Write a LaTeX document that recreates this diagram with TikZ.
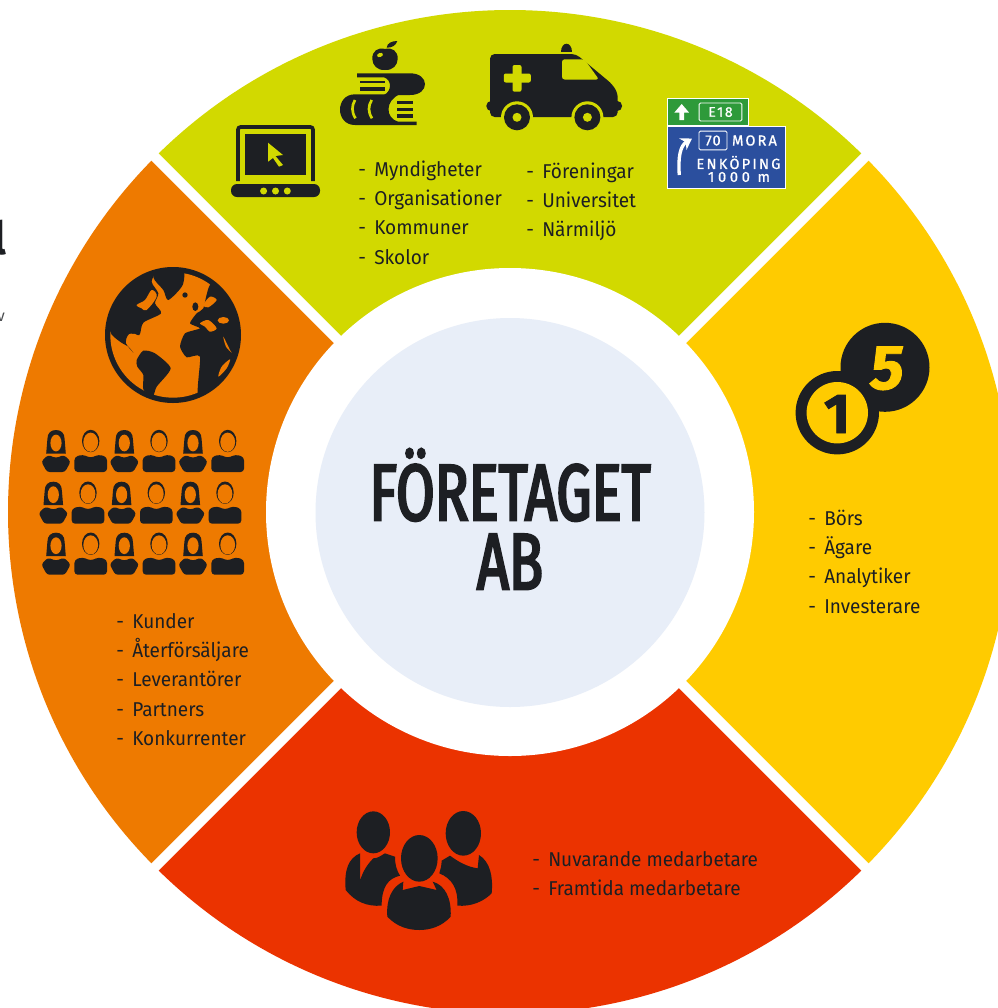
\documentclass[tikz,border=0pt]{standalone}
\usepackage{fontspec}
\setmainfont[FakeStretch=0.95]{Fira Sans}
\newfontfamily\titlefont[FakeStretch=0.70,FakeBold=3]{Fira Sans}
\newfontfamily\signfont[FakeBold=0.8]{Fira Sans}
\newfontfamily\coinfont[FakeBold=1.5]{Fira Sans}
\usetikzlibrary{arrows.meta}

\definecolor{ringyellow}{HTML}{FFCB00}
\definecolor{ringred}{HTML}{EB3300}
\definecolor{ringorange}{HTML}{EE7A00}
\definecolor{ringgreen}{HTML}{D2D900}
\definecolor{hubblue}{HTML}{E8EEF8}
\definecolor{ink}{HTML}{1D1F23}
\definecolor{signgreen}{HTML}{2E9A3A}
\definecolor{signblue}{HTML}{2B4F9E}

\newcommand{\itemline}[1]{\strut\makebox[12pt][l]{-}#1}

\tikzstyle{hub}=[circle,fill=hubblue,minimum size=291.75pt,inner sep=0pt]
\tikzstyle{title}=[inner sep=0pt,align=center,text=ink,font=\titlefont\fontsize{60}{51.75}\selectfont]
\tikzstyle{list}=[anchor=north west,inner sep=0pt,align=left,text=ink,font=\fontsize{15}{22}\selectfont]
\tikzstyle{signtext}=[inner sep=0pt,text=white,font=\signfont\fontsize{11}{11}\selectfont]

\tikzset{
  female/.pic={
    \fill[ink] (-9.8,23.5)--(-8.6,9) .. controls (-8.6,3) and (-5,0) .. (0,0) .. controls (5,0) and (8.6,3) .. (8.6,9)--(9.8,23.5)--cycle;
    \fill[ringorange] (0,13) ellipse (5.6 and 8.4);
    \fill[ink,rounded corners=2pt] (-8,25)--(0,28)--(8,25)--(14.7,31.5)--(9,42)--(-9,42)--(-14.7,31.5)--cycle;
  },
  male/.pic={
    \fill[ink] (0,11) ellipse (8.7 and 11.2);
    \fill[ringorange] (0,12.2) ellipse (7.4 and 9.6);
    \fill[ink,rounded corners=2.5pt] (-16.3,42)--(-16.3,27)--(-8,24.5)--(0,28)--(8,24.5)--(16.3,27)--(16.3,42)--cycle;
  }
}

\begin{document}
\begin{tikzpicture}[x=0.75pt,y=-0.75pt]
\useasboundingbox (0,0) rectangle (998,1008);
\clip (0,0) rectangle (998,1008);
% ring
\fill[ringyellow] (510,512)--++(-45:502) arc (-45:45:502)--cycle;
\fill[ringred] (510,512)--++(45:502) arc (45:135:502)--cycle;
\fill[ringorange] (510,512)--++(135:502) arc (135:225:502)--cycle;
\fill[ringgreen] (510,512)--++(225:502) arc (225:315:502)--cycle;
\draw[white,line width=7.5pt] (510,512)--++(45:510);
\draw[white,line width=7.5pt] (510,512)--++(135:510);
\draw[white,line width=7.5pt] (510,512)--++(225:510);
\draw[white,line width=7.5pt] (510,512)--++(315:510);
\fill[white] (510,512) circle (244);
\node(company)[hub] at (510,512.5) {};
\node(companyname)[title] at (510,519) {F\"ORETAGET\\AB};

% lists
\node(authorities)[list] at (358,155.5) {\itemline{Myndigheter}\\\itemline{Organisationer}\\\itemline{Kommuner}\\\itemline{Skolor}};
\node(associations)[list] at (526,157.5) {\itemline{F\"oreningar}\\\itemline{Universitet}\\\itemline{N\"armilj\"o}};
\node(owners)[list] at (808,504.5) {\itemline{B\"ors}\\\itemline{\"Agare}\\\itemline{Analytiker}\\\itemline{Investerare}};
\node(customers)[list] at (116,607.5) {\itemline{Kunder}\\\itemline{\r{A}terf\"ors\"aljare}\\\itemline{Leverant\"orer}\\\itemline{Partners}\\\itemline{Konkurrenter}};
\node(staff)[list] at (532,845.5) {\itemline{Nuvarande medarbetare}\\\itemline{Framtida medarbetare}};

% cut off text at the left edge
\node(edgeletter)[anchor=base east,inner sep=0pt,text=ink,font=\bfseries\fontsize{34}{34}\selectfont] at (7,254) {l};
\node(edgesmall)[anchor=base east,inner sep=0pt,text=ink!80,font=\fontsize{12}{12}\selectfont] at (5,321) {v};

% laptop
\draw[ink,line width=2.8pt,rounded corners=2pt] (238,181)--(238,127)--(313,127)--(313,181);
\fill[ink] (245,134) rectangle (306,175);
\fill[ringgreen] (268,142.7)--(283,155)--(275.5,156)--(283,165)--(279,166.7)--(273,158)--(268,161.7)--cycle;
\fill[ink,rounded corners=4.5pt] (231,184) rectangle (320,197);
\fill[ringgreen] (263.6,191) circle (3.5);
\fill[ringgreen] (275.5,191) circle (3.5);
\fill[ringgreen] (287.3,191) circle (3.5);

% books and apple
\fill[ink] (385,49) .. controls (392,47) and (398,51) .. (397.7,59) .. controls (397.5,65) and (393,70.5) .. (385,70) .. controls (377,70.5) and (372.5,65) .. (372.3,59) .. controls (372,51) and (378,47) .. (385,49)--cycle;
\fill[ringgreen,rotate around={20:(380,55)}] (380,55) ellipse (3 and 2);
\fill[ink] (386.7,47.7) .. controls (387,43) and (392,41) .. (397.3,41) .. controls (396,45.5) and (392,47.7) .. (386.7,47.7)--cycle;
\fill[ink] (357,73.3)--(410,73.3) .. controls (430,73.3) and (430,95) .. (410,95)--(384,95) .. controls (392,91) and (392,80) .. (384,77.3)--(357,77.3)--cycle;
\fill[ink] (360,80.7) rectangle (385,83.3);
\fill[ink] (360,87.3) rectangle (385,90.7);
\fill[ink] (400,94.3)--(355,94.3) .. controls (335,94.3) and (335,125) .. (355,125)--(416.7,125)--(416.7,121.7)--(398,121.7) .. controls (385,118) and (385,100) .. (400,94.3)--cycle;
\fill[ink] (396.7,100.7) rectangle (413.3,104);
\fill[ink] (396.7,107.7) rectangle (413.3,111);
\fill[ink] (396.7,114.3) rectangle (413.3,117.7);
\draw[ringgreen,line width=2pt] (355,100) .. controls (351.5,106) and (351.5,112) .. (355.5,118.3);
\draw[ringgreen,line width=2pt] (371.7,100) .. controls (368,106) and (368,112) .. (372,118.3);

% ambulance
\fill[ink] (561,52) .. controls (561,41) and (571.5,41) .. (571.5,52)--cycle;
\fill[ink,rounded corners=3.5pt] (490,117)--(490,54)--(576,54)--(612,84)--(617.7,93)--(617.7,117)--cycle;
\fill[ink,rounded corners=3.5pt] (486.4,101) rectangle (622,111);
\fill[ringgreen,rounded corners=1.5pt] (512.5,65) rectangle (521.5,91.7);
\fill[ringgreen,rounded corners=1.5pt] (503.8,73.5) rectangle (530.8,82.5);
\fill[ringgreen,rounded corners=2pt] (562,59.3)--(584.4,59.3)--(599,79.5)--(562,79.5)--cycle;
\fill[ringgreen] (517,117.3) circle (16);
\fill[ink] (517,117.3) circle (13);
\fill[ringgreen] (517,117.3) circle (4.5);
\fill[ringgreen] (587.4,117.3) circle (16);
\fill[ink] (587.4,117.3) circle (13);
\fill[ringgreen] (587.4,117.3) circle (4.5);

% road sign
\draw[white,line width=0.7pt,fill=signgreen] (667.7,98) rectangle (748,125.7);
\fill[white] (681.7,104)--(689,112.5)--(684,112.5)--(684,120)--(679.4,120)--(679.4,112.5)--(674.4,112.5)--cycle;
\node(signroad)[signtext,draw=white,line width=0.7pt,rounded corners=1pt,minimum width=32pt,minimum height=13.5pt,font=\signfont\fontsize{10.5}{10.5}\selectfont] at (720.5,112) {\addfontfeature{LetterSpace=12}E18};
\draw[white,line width=0.7pt,fill=signblue] (667.7,126.7) rectangle (785,188);
\draw[white,line width=2.5pt,-{Stealth[length=8pt,width=10pt]}] (679.3,175) .. controls (678,158) and (680,146) .. (692,138.5);
\node(signnumber)[signtext,draw=white,line width=0.7pt,rounded corners=1pt,minimum width=21pt,minimum height=14pt] at (713,140.5) {\addfontfeature{LetterSpace=6}70};
\node(signmora)[signtext] at (754.5,140.5) {\addfontfeature{LetterSpace=14}MORA};
\node(signcity)[signtext] at (738.5,162.5) {\addfontfeature{LetterSpace=15}ENK\"OPING};
\node(signdist)[signtext] at (739,177) {\addfontfeature{LetterSpace=25}1000 m};

% globe
\begin{scope}[shift={(0,200)},x=0.25pt,y=-0.25pt]
\fill[ink] (519,405) circle (204);
\fill[ringorange] (519,405) circle (188);
\begin{scope}
\clip (519,405) circle (192);
\fill[ink] plot[smooth cycle,tension=0.45] coordinates {(330,392) (345,300) (400,225) (470,200) (455,245) (475,280) (465,310) (483,340) (430,368) (418,405) (385,405) (378,430) (400,458) (385,440) (360,425)};
\fill[ink] plot[smooth cycle,tension=0.45] coordinates {(460,232) (480,190) (548,200) (548,255) (505,300) (490,270)};
\fill[ringorange] plot[smooth cycle,tension=0.6] coordinates {(410,315) (435,300) (455,270) (470,290) (440,330) (425,325)};
\fill[ink] plot[smooth cycle,tension=0.4] coordinates {(410,480) (430,452) (465,460) (512,505) (470,560) (458,590) (430,568) (430,525) (412,500)};
\fill[ink] plot[smooth cycle,tension=0.35] coordinates {(635,250) (730,320) (735,480) (680,560) (595,590) (600,470) (560,472) (540,440) (555,400) (600,385) (570,370) (590,340) (610,325)};
\fill[ink] (555,285) circle (8);
\fill[ink] (586,320) ellipse (9 and 13);
\fill[ringorange] (670,361) ellipse (17 and 10);
\fill[ringorange] plot[smooth cycle,tension=0.5] coordinates {(600,370) (625,360) (650,385) (630,395) (615,380)};
\fill[ringorange] plot[smooth cycle,tension=0.5] coordinates {(670,410) (690,450) (695,458) (678,440)};
\fill[ringorange] plot[smooth cycle,tension=0.5] coordinates {(690,478) (680,505) (655,530) (665,500)};
\fill[ringorange] plot[smooth cycle,tension=0.5] coordinates {(630,290) (650,300) (625,322) (610,315)};
\fill[ringorange] plot[smooth cycle,tension=0.5] coordinates {(385,405) (405,402) (440,425) (410,440) (395,430)};
\end{scope}
\end{scope}

% crowd
\foreach \rowy/\rowx in {430/0,481.7/-2.7,532.7/0}{
  \foreach \colx in {56,124.3,193} \pic at (\colx+\rowx,\rowy) {female};
  \foreach \colx in {90.7,159,227.7} \pic at (\colx+\rowx,\rowy) {male};
}

% coins
\fill[ink] (885,367.3) circle (44.5);
\fill[ink] (837.3,412.7) circle (41.7);
\fill[ringyellow] (837.3,412.7) circle (30.7);
\node(coinfive)[inner sep=0pt,anchor=base,text=ringyellow,font=\coinfont\bfseries\fontsize{47}{47}\selectfont] at (885,389) {\addfontfeature{FakeSlant=0.12}5};
\node(coinone)[inner sep=0pt,anchor=base,text=ink,font=\coinfont\bfseries\fontsize{42}{42}\selectfont] at (837,433) {1};

% team
\begin{scope}[shift={(330,790)},x=0.25pt,y=-0.25pt]
\fill[ink] (130,127) ellipse (50 and 63);
\fill[ink] (400,130) ellipse (53 and 67);
\fill[ink] (268,205) ellipse (55 and 70);
\fill[ink] (47,300) .. controls (42,240) and (55,205) .. (90,190)--(90,272) .. controls (100,240) and (115,220) .. (130,205) .. controls (145,205) and (155,195) .. (165,190)--(195,200) .. controls (195,225) and (200,240) .. (210,257) .. controls (175,265) and (155,290) .. (155,347) .. controls (110,350) and (75,335) .. (47,300)--cycle;
\fill[ink] (485,310) .. controls (490,260) and (480,215) .. (447,195)--(443,235) .. controls (410,230) and (385,215) .. (360,197)--(335,212) .. controls (335,230) and (330,240) .. (328,250) .. controls (365,265) and (385,295) .. (382,347) .. controls (425,350) and (460,335) .. (485,310)--cycle;
\fill[ink] (172,380) .. controls (168,330) and (185,290) .. (220,275)--(218,300)--(268,288)--(320,300)--(308,275) .. controls (345,285) and (365,325) .. (362,380) .. controls (335,410) and (300,420) .. (268,420) .. controls (235,420) and (200,410) .. (172,380)--cycle;
\end{scope}
\end{tikzpicture}
\end{document}
